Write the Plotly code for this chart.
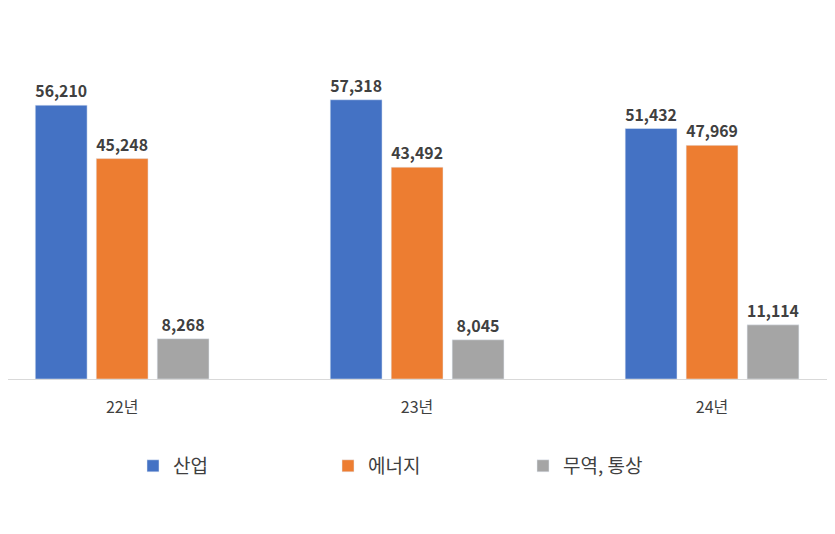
import plotly.graph_objects as go

categories = ["22년", "23년", "24년"]
industry = [56210, 57318, 51432]
energy = [45248, 43492, 47969]
trade = [8268, 8045, 11114]

names = ["산업", "에너지", "무역, 통상"]
colors = ["#4472C4", "#ED7D31", "#A5A5A5"]

fig = go.Figure()
for name, vals, c in zip(names, [industry, energy, trade], colors):
    fig.add_trace(go.Bar(
        x=categories, y=vals, name=name, marker_color=c,
        text=[f"{v:,}" for v in vals], textposition="outside", cliponaxis=False,
        textfont=dict(size=16, color="#404040", family="Noto Sans CJK KR"),
        texttemplate="<b>%{text}</b>",
    ))

fig.update_layout(
    width=835, height=534, barmode="group", bargap=0.38, bargroupgap=0.15,
    margin=dict(l=0, r=0, t=30, b=163),
    plot_bgcolor="white", paper_bgcolor="white",
    font=dict(family="Noto Sans CJK KR", color="#404040", size=14),
    xaxis=dict(range=[-0.387, 2.444], showline=True, linecolor="#D9D9D9",
               tickfont=dict(size=16), ticks="", ticklen=0, ticklabelstandoff=14),
    yaxis=dict(range=[0, 70000], visible=False),
    legend=dict(orientation="h", x=0.5, xanchor="center", y=-0.255, yanchor="middle",
                font=dict(size=19), entrywidth=150, traceorder="normal"),
    showlegend=True,
)
fig.write_html("out.html")
